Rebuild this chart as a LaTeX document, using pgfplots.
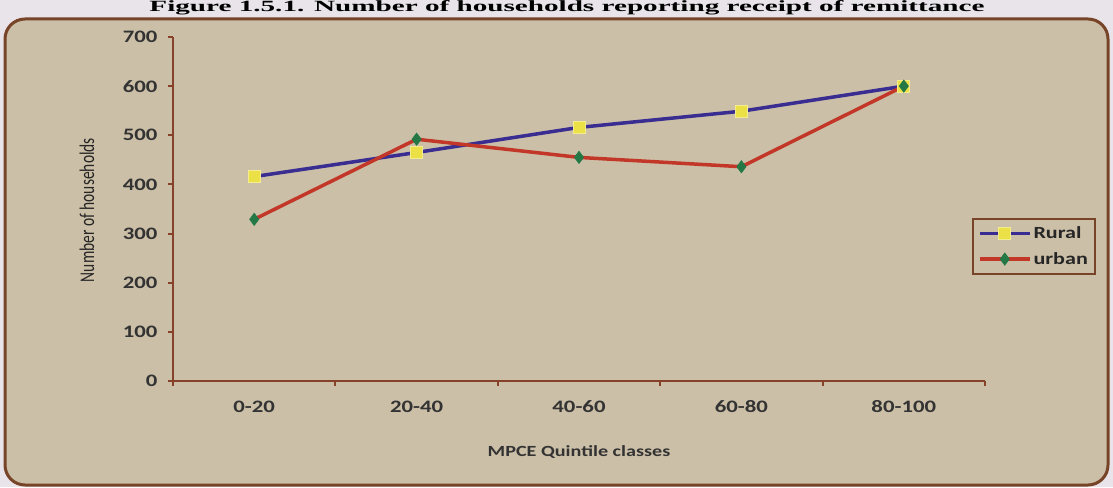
\documentclass[border=0pt]{standalone}
\usepackage{pgfplots}
\pgfplotsset{compat=1.18}
\usepackage{fontspec}
\setmainfont{Carlito}
\newfontfamily\calw[FakeStretch=1.3]{Carlito}
\newfontfamily\titlef[FakeStretch=1.3]{Liberation Serif}
\definecolor{bgtan}{RGB}{203,191,167}
\definecolor{framebrown}{RGB}{120,68,40}
\definecolor{axbrown}{RGB}{135,65,40}
\definecolor{rural}{RGB}{58,45,145}
\definecolor{ruralmk}{RGB}{235,225,70}
\definecolor{urban}{RGB}{195,55,40}
\definecolor{urbanmk}{RGB}{35,120,70}
\definecolor{pagebg}{RGB}{232,228,234}
\begin{document}
\begin{tikzpicture}
\fill[pagebg] (0pt,0pt) rectangle (1113pt,487pt);
\useasboundingbox (0pt,0pt) rectangle (1113pt,487pt);
\clip (0pt,0pt) rectangle (1113pt,487pt);
\node[anchor=base, inner sep=0pt] at (567pt,475pt) {\resizebox{835pt}{11pt}{\titlef\bfseries\fontsize{19}{20}\selectfont Figure 1.5.1. Number of households reporting receipt of remittance}};
\draw[framebrown, line width=3pt, fill=bgtan, rounded corners=20pt] (5pt,2pt) rectangle (1108pt,468pt);
\begin{axis}[
  at={(173pt,106pt)}, anchor=south west,
  scale only axis, width=812pt, height=344pt,
  xmin=0, xmax=5, ymin=0, ymax=700,
  axis lines=left, axis line style={-, axbrown, line width=2.5pt},
  xtick={0,1,2,3,4,5},
  xticklabels={0-20,20-40,40-60,60-80,80-100},
  x tick label as interval,
  ytick={0,100,...,700},
  tick align=outside, major tick length=5pt,
  tick style={axbrown, line width=2pt},
  /pgf/number format/assume math mode=true,
  ticklabel style={font=\calw\bfseries\fontsize{17.5}{19}\selectfont, text=black!80},
  xticklabel style={yshift=-11pt},
  yticklabel style={xshift=-7pt},
  xlabel={MPCE Quintile classes},
  xlabel style={font=\calw\bfseries\fontsize{15.5}{17}\selectfont, text=black!80, at={(axis description cs:0.5,-0.206)}, anchor=center},
  ylabel={\scalebox{1}[1.35]{Number of households}},
  ylabel style={font=\fontsize{15.5}{17}\selectfont, text=black!85, at={(axis description cs:-0.106,0.497)}, anchor=center},
  legend style={at={(axis description cs:0.984,0.474)}, anchor=north west,
    draw=framebrown, line width=2pt, fill=bgtan,
    font=\calw\bfseries\fontsize{17}{19}\selectfont, text=black!85,
    row sep=8pt, inner xsep=5pt, inner ysep=6pt},
  legend cell align=left,
  legend image code/.code={\draw[mark repeat=2,mark phase=2] plot coordinates {(0pt,0pt) (25pt,0pt) (50pt,0pt)};},
]
\addplot[rural, line width=3.5pt, mark=square*, mark size=6pt, mark options={fill=ruralmk, draw=ruralmk!60!white, line width=1pt}]
  coordinates {(0.5,416) (1.5,465) (2.5,516) (3.5,549) (4.5,600)};
\addlegendentry{Rural}
\addplot[urban, line width=3.5pt, mark=diamond*, mark size=6pt, mark options={fill=urbanmk, draw=urbanmk, line width=0.8pt}]
  coordinates {(0.5,329) (1.5,492) (2.5,455) (3.5,436) (4.5,600)};
\addlegendentry{urban}
\end{axis}
\end{tikzpicture}
\end{document}
